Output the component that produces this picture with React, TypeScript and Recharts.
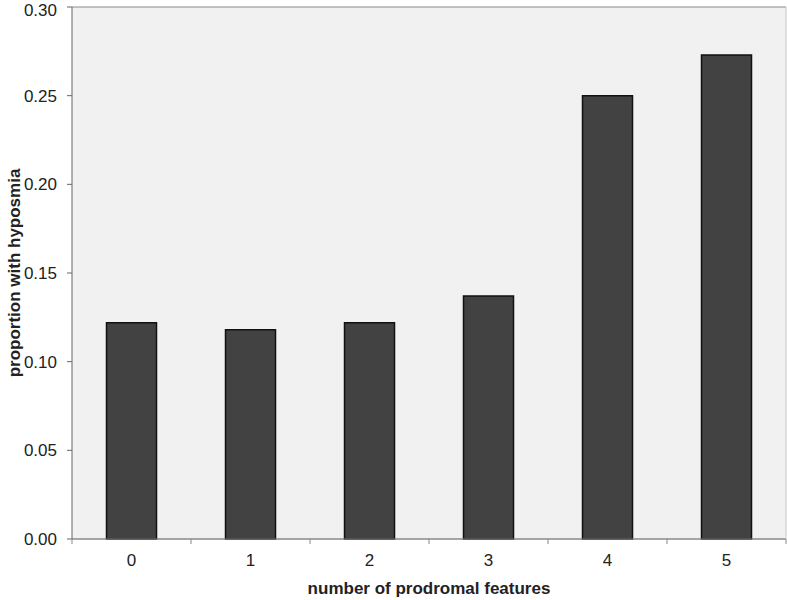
import * as React from "react"
import { Bar, BarChart, CartesianGrid, XAxis, YAxis } from "recharts"

const features = ["0", "1", "2", "3", "4", "5"]
const proportions = [0.122, 0.118, 0.122, 0.137, 0.25, 0.273]
const yTicks = [0, 0.05, 0.1, 0.15, 0.2, 0.25, 0.3]

const chartData = features.map((f, i) => ({ feature: f, proportion: proportions[i] }))

const FONT = "'Liberation Sans', Arial, sans-serif"

// category ticks: label in the middle, tick mark on the band edges (Excel style)
const EdgeTick = (props: any) => {
    const { x, y, payload, index } = props
    const half = payload.offset ?? 59.5
    return (
        <g>
            <line x1={x - half} y1={y - 8} x2={x - half} y2={y - 3} stroke="#888" />
            {index === features.length - 1 && (
                <line x1={x + half} y1={y - 8} x2={x + half} y2={y - 3} stroke="#888" />
            )}
            <text x={x} y={y + 19} textAnchor="middle" fontSize={17} fill="#222" fontFamily={FONT}>
                {payload.value}
            </text>
        </g>
    )
}

export default function App() {
    return (
        <div style={{ position: "absolute", left: 0, top: 0, width: 787, height: 600, background: "#fff" }}>
            <BarChart
                width={787}
                height={600}
                data={chartData}
                margin={{ top: 7, right: 0, left: 0, bottom: 0 }}
                barCategoryGap="29%"
            >
                <CartesianGrid vertical={false} stroke="#8a8a8a" fill="#f1f1f1" fillOpacity={1} />
                <XAxis
                    dataKey="feature"
                    height={61}
                    axisLine={{ stroke: "#888" }}
                    tickLine={false}
                    tick={<EdgeTick />}
                    interval={0}
                    label={{
                        value: "number of prodromal features",
                        position: "insideBottom",
                        offset: 6,
                        style: { fontFamily: FONT, fontSize: 17, fontWeight: "bold", fill: "#222" },
                    }}
                />
                <YAxis
                    yAxisId="left"
                    width={72}
                    domain={[0, 0.3]}
                    ticks={yTicks}
                    tickFormatter={(v: number) => v.toFixed(2)}
                    axisLine={{ stroke: "#666" }}
                    tickLine={{ stroke: "#666" }}
                    tickSize={5}
                    tickMargin={10}
                    tick={{ fontSize: 17, fill: "#222", fontFamily: FONT }}
                    label={{
                        value: "proportion with hyposmia",
                        angle: -90,
                        position: "insideLeft",
                        offset: 14,
                        style: { textAnchor: "middle", fontFamily: FONT, fontSize: 17, fontWeight: "bold", fill: "#222" },
                    }}
                />
                <YAxis
                    yAxisId="right"
                    orientation="right"
                    width={1}
                    tick={false}
                    tickLine={false}
                    axisLine={{ stroke: "#c8c8c8" }}
                />
                <Bar
                    yAxisId="left"
                    dataKey="proportion"
                    fill="#424242"
                    stroke="#111"
                    strokeWidth={1.5}
                    isAnimationActive={false}
                />
            </BarChart>
        </div>
    )
}
